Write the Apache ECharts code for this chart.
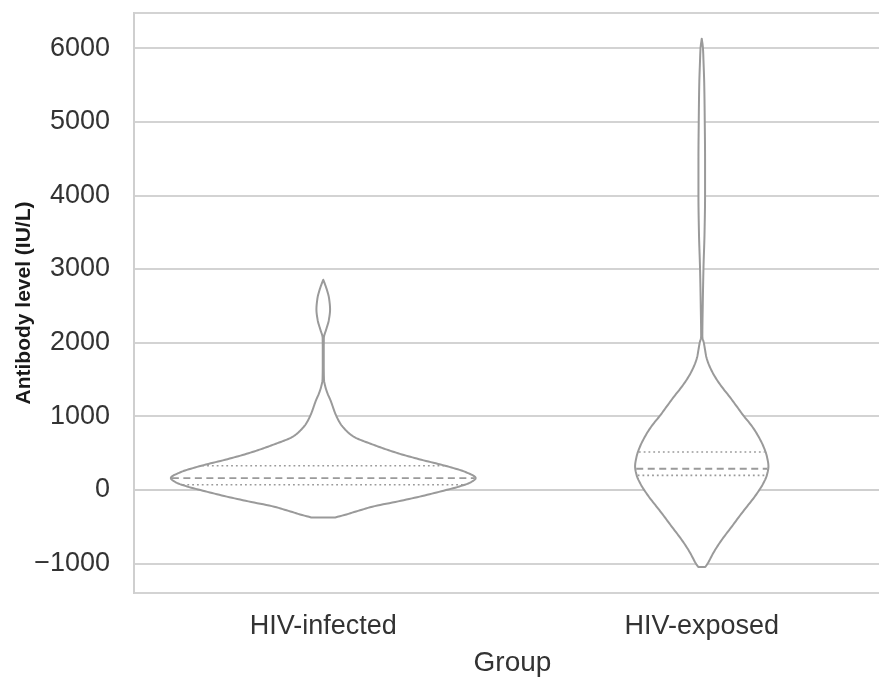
<!DOCTYPE html>
<html>
<head>
<meta charset="utf-8">
<script src="https://cdn.jsdelivr.net/npm/echarts@6/dist/echarts.min.js"></script>
<style>
  html, body { margin: 0; padding: 0; background: #fff; }
  #chart { width: 879px; height: 677px; }
</style>
</head>
<body>
<div id="chart"></div>
<script>
// ---- data ----
const categories = ['HIV-infected', 'HIV-exposed'];
const yTickLabels = ['−1000', '0', '1000', '2000', '3000', '4000', '5000', '6000'];

// kernel density outline of each group: antibody level (IU/L) and relative density
const infectedLevels  = [2853, 2800, 2700, 2600, 2450, 2300, 2180, 2060, 1900, 1700, 1500, 1404, 1300, 1223, 1019, 900, 838, 724, 611, 498, 417, 317, 240, 159, 100, 45, -20, -91, -160, -227, -290, -340, -376];
const infectedDensity = [0, 1.5, 4, 5.8, 6.8, 5.5, 3, 0.6, 0.5, 0.5, 0.7, 2, 4.5, 7, 12.5, 17, 20.5, 30, 50, 74, 95, 124, 142, 152, 147, 136, 118, 97, 74, 50, 34, 22, 12];

const exposedLevels  = [6128, 6000, 5800, 5500, 5000, 4500, 4000, 3500, 3000, 2500, 2079, 2000, 1900, 1807, 1721, 1600, 1495, 1380, 1268, 1130, 1000, 900, 815, 700, 589, 450, 317, 200, 90, -91, -230, -362, -500, -634, -750, -860, -950, -1000, -1050];
const exposedDensity = [0, 1.2, 1.8, 2.5, 3, 3.3, 3.3, 2.8, 1.7, 1, 0.6, 2, 3.3, 4.5, 6.5, 10.5, 15, 21, 27.5, 35, 42, 48, 52.5, 57.5, 61.5, 65, 66.5, 65, 61.5, 53, 45, 37.5, 30, 22.5, 16.5, 11.5, 8, 6, 3.5];

// quartiles [Q1, median, Q3]
const infectedQuartiles = [68, 159, 326];
const exposedQuartiles  = [195, 285, 512];

const groups = [
  { levels: infectedLevels, density: infectedDensity, q: infectedQuartiles },
  { levels: exposedLevels,  density: exposedDensity,  q: exposedQuartiles }
];

// monotone cubic (Fritsch–Carlson) interpolation of density along the level axis
function makeSampler(levels, density) {
  const xs = levels.slice().reverse();
  const ys = density.slice().reverse();
  const n = xs.length;
  const d = [], m = new Array(n);
  for (let i = 0; i < n - 1; i++) d.push((ys[i + 1] - ys[i]) / (xs[i + 1] - xs[i]));
  m[0] = d[0]; m[n - 1] = d[n - 2];
  for (let i = 1; i < n - 1; i++) {
    if (d[i - 1] * d[i] <= 0) m[i] = 0;
    else {
      const h0 = xs[i] - xs[i - 1], h1 = xs[i + 1] - xs[i];
      const w1 = 2 * h1 + h0, w2 = h1 + 2 * h0;
      m[i] = (w1 + w2) / (w1 / d[i - 1] + w2 / d[i]);
    }
  }
  return function (x) {
    if (x <= xs[0]) return ys[0];
    if (x >= xs[n - 1]) return ys[n - 1];
    let i = 0;
    while (i < n - 2 && x > xs[i + 1]) i++;
    const h = xs[i + 1] - xs[i], t = (x - xs[i]) / h;
    const t2 = t * t, t3 = t2 * t;
    return (2 * t3 - 3 * t2 + 1) * ys[i] + (t3 - 2 * t2 + t) * h * m[i] +
           (-2 * t3 + 3 * t2) * ys[i + 1] + (t3 - t2) * h * m[i + 1];
  };
}
groups.forEach(function (g) { g.f = makeSampler(g.levels, g.density); });

const stroke = '#9a9a9a';
const chart = echarts.init(document.getElementById('chart'));

function renderViolin(params, api) {
  const i = params.dataIndex;
  const g = groups[i];
  const cx = api.coord([i, 0])[0];
  const band = api.size([1, 0])[0];
  const k = band * 0.4 / 151;
  const top = g.levels[0], bottom = g.levels[g.levels.length - 1];
  const N = 400;
  const right = [], left = [];
  for (let s = 0; s <= N; s++) {
    const v = top - (top - bottom) * s / N;
    const y = api.coord([i, v])[1];
    const w = Math.max(0, g.f(v)) * k;
    right.push([cx + w, y]);
    left.push([cx - w, y]);
  }
  const pts = right.concat(left.reverse());
  const children = [{
    type: 'polygon',
    shape: { points: pts },
    style: { fill: '#ffffff', stroke: stroke, lineWidth: 2, lineJoin: 'round' }
  }];
  g.q.forEach(function (qv, qi) {
    const y = api.coord([i, qv])[1];
    const w = g.f(qv) * k - 1;
    children.push({
      type: 'line',
      shape: { x1: cx - w, y1: y, x2: cx + w, y2: y },
      style: {
        stroke: stroke,
        lineWidth: qi === 1 ? 1.8 : 1.6,
        lineDash: qi === 1 ? [7, 4.5] : [1.8, 3]
      }
    });
  });
  return { type: 'group', children: children };
}

const option = {
  backgroundColor: '#ffffff',
  animation: false,
  grid: {
    left: 134, right: -12, top: 13, bottom: 84,
    containLabel: false,
    outerBoundsMode: 'none',
    show: true, borderColor: '#cfcfcf', borderWidth: 2, backgroundColor: 'transparent'
  },
  xAxis: {
    type: 'category',
    data: categories,
    name: 'Group',
    nameLocation: 'middle',
    nameGap: 56,
    nameMoveOverlap: false,
    nameTextStyle: { fontSize: 28, color: '#333', fontFamily: 'Liberation Sans, Arial, sans-serif' },
    axisLine: { show: true, lineStyle: { color: '#cfcfcf', width: 2 } },
    axisTick: { show: false },
    splitLine: { show: false },
    axisLabel: { fontSize: 27, color: '#333', margin: 20, fontFamily: 'Liberation Sans, Arial, sans-serif' }
  },
  yAxis: {
    type: 'value',
    min: -1403,
    max: 6477,
    minInterval: 1000,
    maxInterval: 1000,
    splitNumber: 8,
    name: 'Antibody level (IU/L)',
    nameLocation: 'middle',
    nameGap: 99,
    nameMoveOverlap: false,
    nameTextStyle: { fontSize: 21, fontWeight: 'bold', color: '#1a1a1a', fontFamily: 'Liberation Sans, Arial, sans-serif' },
    axisLine: { show: true, lineStyle: { color: '#cfcfcf', width: 2 } },
    axisTick: { show: false },
    splitLine: { show: true, lineStyle: { color: '#d3d3d3', width: 2 } },
    axisLabel: {
      fontSize: 27, color: '#333', margin: 24,
      fontFamily: 'Liberation Sans, Arial, sans-serif',
      showMinLabel: false, showMaxLabel: false,
      formatter: function (v) {
        const idx = Math.round(v / 1000) + 1;
        if (v % 1000 !== 0 || idx < 0 || idx >= yTickLabels.length) return '';
        return yTickLabels[idx];
      }
    }
  },
  series: [{
    type: 'custom',
    renderItem: renderViolin,
    data: [[0, 0], [1, 0]],
    encode: { x: 0, y: 1 },
    clip: false,
    silent: true,
    z: 3
  }]
};
chart.setOption(option);
</script>
</body>
</html>
